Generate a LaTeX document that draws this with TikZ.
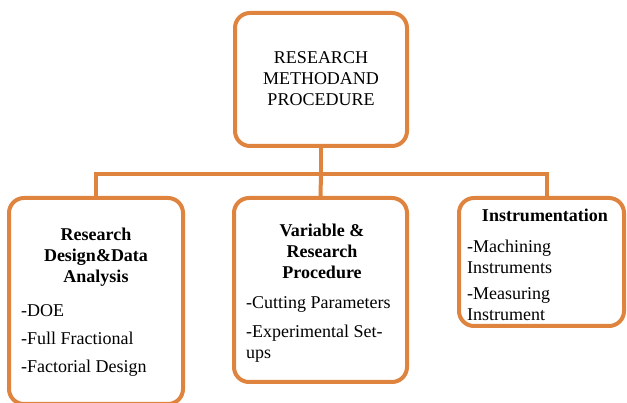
\documentclass[tikz,border=0pt]{standalone}
\usepackage{fontspec}
\setmainfont{Liberation Serif}
\usetikzlibrary{arrows}
\usetikzlibrary{arrows.meta}

\definecolor{boxorange}{RGB}{222,132,62}

\tikzset{
  box/.style={draw=boxorange, line width=4pt, rounded corners=15pt, rectangle, inner sep=0pt},
  link/.style={draw=boxorange, line width=4pt},
  txt/.style={inner sep=0pt, font=\fontsize{18}{21}\selectfont},
  head/.style={txt, align=center, font=\fontsize{18}{21}\selectfont\bfseries},
  items/.style={txt, align=left, anchor=west}
}

\begin{document}
\begin{tikzpicture}[x=1pt, y=-1pt]
\useasboundingbox (0,0) rectangle (627,403);
% boxes
\node[box, minimum width=172pt, minimum height=133pt] (method) at (321,79.5) {};
\node[box, minimum width=174pt, minimum height=206pt] (design) at (96,301) {};
\node[box, minimum width=173pt, minimum height=184pt] (procedure) at (320.5,290) {};
\node[box, minimum width=165pt, minimum height=128pt] (instr) at (541.5,262) {};
% connectors
\coordinate (hub) at (321,174);
\draw[link] (method.south) -- (hub);
\draw[link] (design.north) |- (hub) -| ([xshift=5pt]instr.north);
\draw[link] (hub) -- (procedure.north);
% texts
\node[txt, align=center] (methodtext) at (321,79) {RESEARCH\\METHODAND\\PROCEDURE};
\node[head] (designhead) at (96,257) {Research\\Design\&Data\\Analysis};
\node[items] (designitems) at (21,340) {-DOE\\[7pt]-Full Fractional\\[7pt]-Factorial Design};
\node[head] (procedurehead) at (322,251) {Variable \&\\Research\\Procedure};
\node[items] (procedureitems) at (246,329) {-Cutting Parameters\\[8pt]-Experimental Set-\\ups};
\node[head] (instrhead) at (545,215) {Instrumentation};
\node[items] (instritems) at (467,280) {-Machining\\Instruments\\[5pt]-Measuring\\Instrument};
\end{tikzpicture}
\end{document}
